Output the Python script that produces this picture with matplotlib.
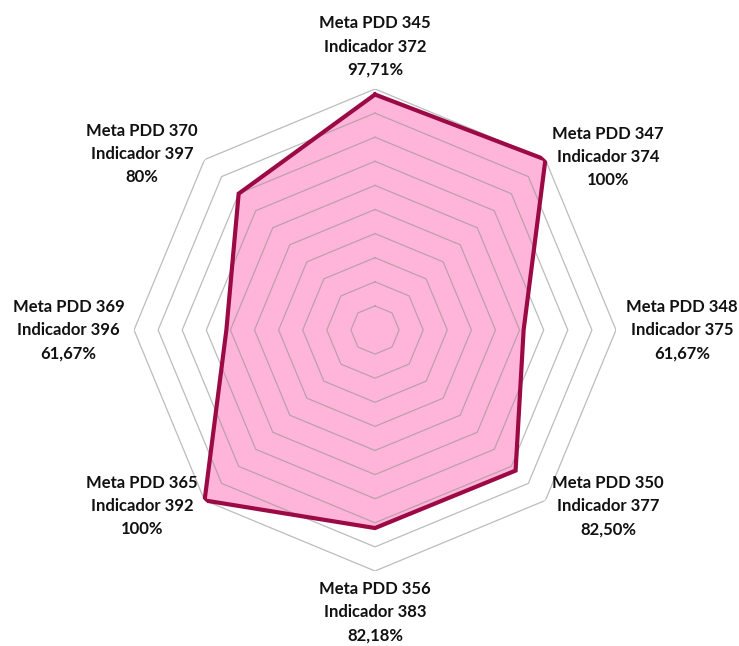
import numpy as np
import matplotlib
matplotlib.use("Agg")
import matplotlib.pyplot as plt

# dados (sentido horário a partir do topo)
metas = ["Meta PDD 345", "Meta PDD 347", "Meta PDD 348", "Meta PDD 350",
         "Meta PDD 356", "Meta PDD 365", "Meta PDD 369", "Meta PDD 370"]
indicadores = ["Indicador 372", "Indicador 374", "Indicador 375", "Indicador 377",
               "Indicador 383", "Indicador 392", "Indicador 396", "Indicador 397"]
valores = [97.71, 100, 61.67, 82.50, 82.18, 100, 61.67, 80]
rotulos_pct = ["97,71%", "100%", "61,67%", "82,50%", "82,18%", "100%", "61,67%", "80%"]

n = len(valores)
angulos = np.pi / 2 - np.arange(n) * 2 * np.pi / n
ang_fechado = np.append(angulos, angulos[0])
val_fechado = np.append(valores, valores[0])

fig = plt.figure(figsize=(7.39, 6.46), dpi=100)
ax = fig.add_axes([134 / 739, 75 / 646, 482 / 739, 482 / 646], projection="polar")
ax.set_ylim(0, 100)
ax.grid(False)
ax.spines["polar"].set_visible(False)
ax.set_xticks([])
ax.set_yticks([])
ax.patch.set_alpha(0)

# grade octogonal
for r in range(10, 101, 10):
    ax.plot(ang_fechado, [r] * (n + 1), color="#909090", alpha=0.6, lw=0.9, zorder=2)

ax.fill(ang_fechado, val_fechado, color="#ffb5da", zorder=1)
ax.plot(ang_fechado, val_fechado, color="#9b0a45", lw=3, zorder=3, solid_joinstyle="miter")

# posição dos rótulos
estilos = [
    (0, 8, "center", "bottom"),
    (5, 2, "left", "center"),
    (7.5, 0, "left", "center"),
    (5, -4, "left", "center"),
    (0, -7, "center", "top"),
    (-5, -4, "right", "center"),
    (-7, 0, "right", "center"),
    (-5, 4, "right", "center"),
]
for i in range(n):
    dx, dy, ha, va = estilos[i]
    texto = metas[i] + "\n" + indicadores[i] + "\n" + rotulos_pct[i]
    ax.annotate(texto, xy=(angulos[i], 100), xytext=(dx, dy), textcoords="offset points",
                ha=ha, va=va, multialignment="center", fontsize=12, fontweight="bold",
                family="Lato", color="#111111", linespacing=1.56, annotation_clip=False)

fig.savefig("out.png", dpi=100)
